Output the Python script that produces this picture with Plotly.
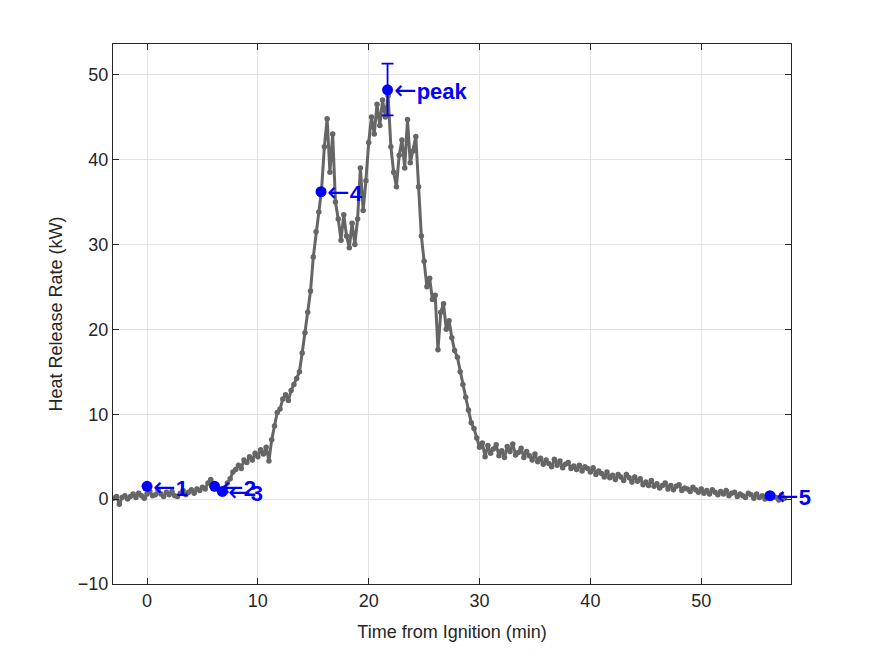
import numpy as np
import plotly.graph_objects as go

# ---- data ----
t_start = -3.0
t_step = 0.25
hrr = [
    0.1, 0.3, -0.6, 0.2,
    0.4, 0.0, 0.3, 0.6,
    0.2, 0.7, 0.4, 0.1,
    0.6, 0.9, 0.4, 0.5,
    1.0, 0.6, 0.3, 0.8,
    0.5, 0.9, 0.4, 0.3,
    0.7, 1.0, 0.5, 0.8,
    1.1, 0.7, 1.2, 1.0,
    1.4, 1.2, 1.9, 2.3,
    1.8, 1.4, 1.1, 0.8,
    1.3, 1.9, 2.4, 3.2,
    3.5, 4.0, 3.6, 4.6,
    4.3, 5.0, 4.6, 5.4,
    5.0, 5.8, 5.3, 6.1,
    4.5, 7.0, 8.6, 10.2,
    10.6, 11.8, 12.3, 11.6,
    12.8, 13.5, 14.2, 15.0,
    17.2, 19.6, 22.0, 24.5,
    28.5, 31.5, 33.8, 36.5,
    41.5, 44.8, 38.5, 43.0,
    35.0, 33.0, 30.5, 33.5,
    31.0, 29.6, 32.5, 30.0,
    33.0, 39.0, 34.0, 37.5,
    42.0, 45.0, 43.0, 46.5,
    44.0, 47.0, 45.0, 47.5,
    41.5, 38.5, 36.8, 40.5,
    42.3, 39.0, 44.7, 39.6,
    41.0, 42.7, 36.8, 31.0,
    28.0, 25.0, 26.0, 23.5,
    24.0, 17.6, 22.0, 23.0,
    20.0, 21.0, 19.0, 17.5,
    16.7, 15.0, 13.5, 12.0,
    10.5, 9.0, 8.3, 7.2,
    6.1, 6.6, 5.0, 6.3,
    5.4, 5.9, 6.4, 5.1,
    5.7, 4.9, 6.2, 5.6,
    6.5, 5.2, 5.5, 6.0,
    4.9, 5.6, 5.1, 4.6,
    5.3, 4.4, 4.8, 4.1,
    4.6, 4.2, 3.8, 4.7,
    4.0, 4.5, 3.7, 4.1,
    4.3, 3.6, 3.9, 3.5,
    4.0, 3.3, 3.8, 3.6,
    3.2, 3.7, 2.9, 3.3,
    3.0, 2.6, 3.2, 2.5,
    2.8, 2.3, 2.9, 2.6,
    2.2, 2.9, 2.5, 2.0,
    2.6, 2.1, 2.4, 1.7,
    2.0, 1.6, 2.2, 1.5,
    1.8, 1.3, 1.6, 1.9,
    1.2, 1.6, 1.1, 1.5,
    1.7, 1.0, 1.3, 1.2,
    0.9, 1.4, 1.1, 0.8,
    1.2, 0.7, 1.0, 0.6,
    1.1, 0.8, 0.5, 0.9,
    0.6, 1.0, 0.4, 0.7,
    0.8, 0.3, 0.6, 0.4,
    0.2, 0.7, 0.5, 0.1,
    0.6, 0.2, 0.4, 0.0,
    0.5, 0.1, 0.4, 0.2,
    -0.1, 0.5, 0.1,
]
time_min = t_start + t_step * np.arange(len(hrr))

event_labels = ["1", "2", "3", "4", "peak", "5"]
event_time = [0.0, 6.1, 6.8, 15.7, 21.7, 56.2]
event_hrr = [1.5, 1.5, 0.9, 36.2, 48.2, 0.4]
peak_err_plus = 3.1
peak_err_minus = 3.0

x_ticks = [0, 10, 20, 30, 40, 50]
y_ticks = [-10, 0, 10, 20, 30, 40, 50]

FONT = "Arial, Liberation Sans, Helvetica, sans-serif"
AX = "#262626"

fig = go.Figure()
fig.add_trace(go.Scatter(
    x=time_min, y=hrr, mode="lines+markers",
    line=dict(color="#666666", width=3),
    marker=dict(color="#666666", size=5.5),
    showlegend=False, hoverinfo="skip",
))
# peak error bar
pk = event_labels.index("peak")
fig.add_trace(go.Scatter(
    x=[event_time[pk]], y=[event_hrr[pk]], mode="markers",
    marker=dict(color="#0000FF", size=11),
    error_y=dict(type="data", symmetric=False, array=[peak_err_plus],
                 arrayminus=[peak_err_minus], color="#0000FF",
                 thickness=1.8, width=6),
    showlegend=False, hoverinfo="skip",
))
others = [i for i in range(len(event_labels)) if i != pk]
fig.add_trace(go.Scatter(
    x=[event_time[i] for i in others], y=[event_hrr[i] for i in others],
    mode="markers", marker=dict(color="#0000FF", size=11),
    showlegend=False, hoverinfo="skip",
))
for lab, xv, yv in zip(event_labels, event_time, event_hrr):
    fig.add_annotation(
        x=xv, y=yv,
        text='<span style="font-family:\'DejaVu Sans\';font-size:27px;font-weight:normal">\u2190</span><b>' + lab + "</b>",
        showarrow=False,
        xanchor="left", yanchor="middle", xshift=4, yshift=0,
        font=dict(family=FONT, size=22, color="#0000FF"),
    )

axis_common = dict(
    showline=True, linecolor=AX, linewidth=1, mirror="allticks",
    ticks="inside", ticklen=6, tickcolor=AX,
    showgrid=True, gridcolor="#e3e3e3", gridwidth=1,
    zeroline=False,
    tickfont=dict(family=FONT, size=18, color=AX),
)
fig.update_xaxes(range=[-3.07, 58.1], tickvals=x_ticks,
                 title=dict(text="Time from Ignition (min)",
                            font=dict(family=FONT, size=18, color=AX), standoff=15),
                 **axis_common)
fig.update_yaxes(range=[-10, 53.6], tickvals=y_ticks,
                 title=dict(text="Heat Release Rate (kW)",
                            font=dict(family=FONT, size=18, color=AX), standoff=10),
                 **axis_common)
fig.update_layout(
    width=875, height=656,
    margin=dict(l=113, r=84, t=44, b=72),
    paper_bgcolor="white", plot_bgcolor="white",
)
fig.write_html("out.html")
